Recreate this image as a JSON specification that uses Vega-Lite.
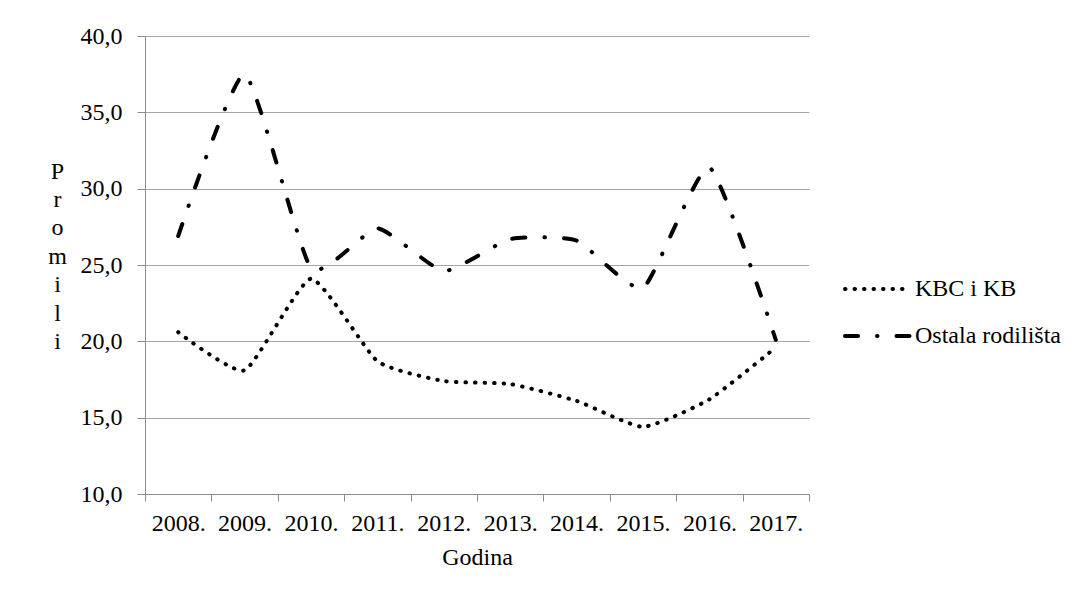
{
  "$schema": "https://vega.github.io/schema/vega-lite/v6.json",
  "autosize": "none",
  "width": 664,
  "height": 458,
  "padding": {"left": 145, "top": 36, "right": 269, "bottom": 102},
  "background": "white",
  "config": {
    "font": "Liberation Serif",
    "view": {"stroke": null},
    "style": {
      "guide-label": {"font": "Liberation Serif", "fontSize": 24, "fill": "black"},
      "guide-title": {"font": "Liberation Serif", "fontSize": 24, "fontWeight": "normal", "fill": "black"}
    },
    "axis": {
      "labelFont": "Liberation Serif",
      "labelFontSize": 24,
      "labelColor": "black",
      "titleFont": "Liberation Serif",
      "titleFontSize": 24,
      "titleFontWeight": "normal",
      "titleColor": "black",
      "domainColor": "#8c8c8c",
      "tickColor": "#8c8c8c",
      "gridColor": "#a6a6a6"
    },
    "legend": {
      "labelFont": "Liberation Serif",
      "labelFontSize": 24,
      "labelColor": "black"
    }
  },
  "data": {
    "values": [
      {"Godina": "2008.", "Skupina": "KBC i KB", "Promili": 20.6},
      {"Godina": "2009.", "Skupina": "KBC i KB", "Promili": 18.1},
      {"Godina": "2010.", "Skupina": "KBC i KB", "Promili": 24.1},
      {"Godina": "2011.", "Skupina": "KBC i KB", "Promili": 18.7},
      {"Godina": "2012.", "Skupina": "KBC i KB", "Promili": 17.4},
      {"Godina": "2013.", "Skupina": "KBC i KB", "Promili": 17.2},
      {"Godina": "2014.", "Skupina": "KBC i KB", "Promili": 16.1},
      {"Godina": "2015.", "Skupina": "KBC i KB", "Promili": 14.4},
      {"Godina": "2016.", "Skupina": "KBC i KB", "Promili": 16.2},
      {"Godina": "2017.", "Skupina": "KBC i KB", "Promili": 19.6},
      {"Godina": "2008.", "Skupina": "Ostala rodilišta", "Promili": 26.9},
      {"Godina": "2009.", "Skupina": "Ostala rodilišta", "Promili": 37.5},
      {"Godina": "2010.", "Skupina": "Ostala rodilišta", "Promili": 24.8},
      {"Godina": "2011.", "Skupina": "Ostala rodilišta", "Promili": 27.4},
      {"Godina": "2012.", "Skupina": "Ostala rodilišta", "Promili": 24.6},
      {"Godina": "2013.", "Skupina": "Ostala rodilišta", "Promili": 26.7},
      {"Godina": "2014.", "Skupina": "Ostala rodilišta", "Promili": 26.6},
      {"Godina": "2015.", "Skupina": "Ostala rodilišta", "Promili": 23.5},
      {"Godina": "2016.", "Skupina": "Ostala rodilišta", "Promili": 31.4},
      {"Godina": "2017.", "Skupina": "Ostala rodilišta", "Promili": 20.1}
    ]
  },
  "mark": {
    "type": "line",
    "color": "black",
    "strokeWidth": 4,
    "strokeCap": "round",
    "interpolate": "cardinal",
    "tension": 0.5
  },
  "encoding": {
    "x": {
      "field": "Godina",
      "type": "nominal",
      "sort": null,
      "scale": {"paddingInner": 0, "paddingOuter": 0},
      "axis": {
        "labelAngle": 0,
        "labelFont": "Liberation Serif",
        "titleFont": "Liberation Serif",
        "tickBand": "extent",
        "tickSize": 7,
        "labelPadding": 10,
        "titlePadding": 10,
        "grid": false,
        "title": "Godina"
      }
    },
    "y": {
      "field": "Promili",
      "type": "quantitative",
      "scale": {"domain": [10, 40], "nice": false, "zero": false},
      "axis": {
        "values": [10, 15, 20, 25, 30, 35, 40],
        "labelExpr": "replace(format(datum.value, '.1f'), '.', ',')",
        "labelFont": "Liberation Serif",
        "titleFont": "Liberation Serif",
        "tickSize": 8,
        "labelPadding": 15,
        "grid": true,
        "title": ["P", "r", "o", "m", "i", "l", "i"],
        "titleAngle": 0,
        "titleLineHeight": 28.4,
        "titleAlign": "center",
        "titleBaseline": "middle",
        "titleX": -88,
        "titleY": 135
      }
    },
    "strokeDash": {
      "field": "Skupina",
      "type": "nominal",
      "scale": {
        "domain": ["KBC i KB", "Ostala rodilišta"],
        "range": [[0.5, 9], [13, 19, 0.5, 19]]
      },
      "legend": {
        "title": null,
        "orient": "none",
        "legendX": 698,
        "legendY": 218,
        "padding": 0,
        "labelFont": "Liberation Serif",
        "labelFontSize": 24,
        "symbolType": "stroke",
        "symbolSize": 4356,
        "symbolStrokeWidth": 4,
        "symbolStrokeColor": "black",
        "labelOffset": 2,
        "rowPadding": -30,
        "encoding": {"symbols": {"strokeCap": {"value": "round"}}}
      }
    }
  }
}
